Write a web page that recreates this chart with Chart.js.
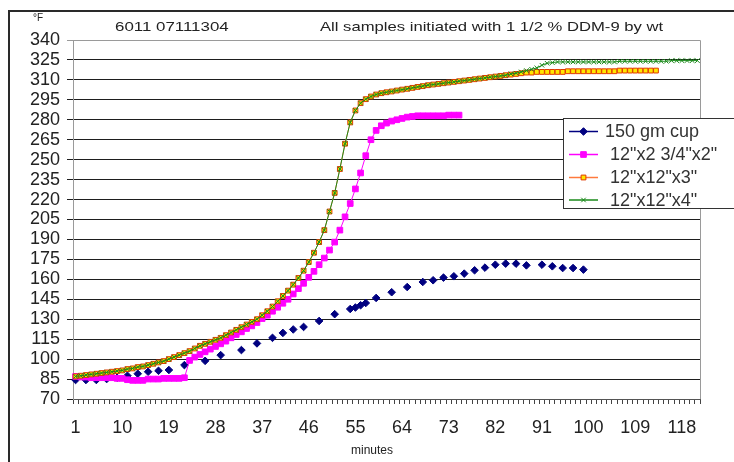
<!DOCTYPE html>
<html>
<head>
<meta charset="utf-8">
<script src="https://cdn.jsdelivr.net/npm/chart.js@4.4.1/dist/chart.umd.min.js"></script>
<style>
  html, body { margin: 0; padding: 0; background: #ffffff; }
  canvas { display: block; }
</style>
</head>
<body>
<canvas id="c" width="734" height="462"></canvas>
<script>
// ---------- DATA ----------
const categories = ['1','2','3','4','5','6','7','8','9','10','11','12','13','14','15','16','17','18','19','20',
  '21','22','23','24','25','26','27','28','29','30','31','32','33','34','35','36','37','38','39','40',
  '41','42','43','44','45','46','47','48','49','50','51','52','53','54','55','56','57','58','59','60',
  '61','62','63','64','65','66','67','68','69','70','71','72','73','74','75','76','77','78','79','80',
  '81','82','83','84','85','86','87','88','89','90','91','92','93','94','95','96','97','98','99','100',
  '101','102','103','104','105','106','107','108','109','110','111','112','113','114','115','116','117','118','119','120','121'];

const shownTickLabels = ['1','10','19','28','37','46','55','64','73','82','91','100','109','118'];

const seriesNames = ['150 gm cup', ' 12"x2 3/4"x2"', ' 12"x12"x3"', ' 12"x12"x4"'];

// 150 gm cup: sparse readings (minute, °F)
const cupMinutes = [1,3,5,7,9,11,13,15,17,19,22,26,29,33,36,39,41,43,45,48,51,54,55,56,57,59,62,65,68,70,72,74,76,78,80,82,84,86,88,91,93,95,97,99];
const cupTemps   = [84.3,84.3,84.3,85,86,87.5,89,90.5,91.2,91.8,95.5,98.7,103,106.8,111.8,116,119.7,122.3,124.2,128.7,133.8,137.7,138.8,140.5,142.2,146,150.3,154.2,158,159.3,161.3,162.3,164.3,166.8,168.8,171,171.8,171.8,170.5,171,169.8,168.5,168.5,167.3];

// 12"x2 3/4"x2" (minutes 1..75)
const slab2 = [87,86.5,86.5,86,86,86,86,86,85.5,85.5,84.5,84,84,84,85,85,85,85.5,85.5,85.5,
  85.5,86,99,101.5,103.5,105.5,107.5,109.5,111.5,113.5,116,118.5,120.5,123,125,127.5,130.5,133,136,139,
  142,145,149,153,157,161.5,166,171,176,182,188,197,207,217,228,240,253,265,272,275.5,
  277.5,279,280,281,282,282.5,283,283,283,283,283,283,283.5,283.5,283.5];

// 12"x12"x3" (minutes 1..113)
const slab3 = [87,87.5,88,88.5,89,89.5,90,90.5,91,91.5,92.5,93,94,94.5,95.5,96.5,97.5,98.5,100,101.5,
  103,104.5,106,108,110,111.5,113,114.5,116,118,120,122,124,126,128,130,133,136,139.5,143.5,
  147.5,151.5,156,161,166.5,173,180,188,197,211,225,243,262,278,287,292.5,295.5,297.5,299,300,
  300.7,301.3,302,302.7,303.3,304,304.7,305.3,306,306.5,307,307.5,308,308.5,309,309.5,310,310.5,311,311.5,
  312,312.5,313,313.5,314,314.5,315,315.5,315.5,316,316,316,316,316,316,316.5,316.5,316.5,316.5,316.5,
  316.5,316.5,316.5,316.5,316.5,317,317,317,317,317,317,317,317];

// 12"x12"x4" (minutes 1..121)
const slab4 = [87,87.5,88,88.5,89,89.5,90,90.5,91,91.5,92.5,93,94,94.5,95.5,96.5,97.5,98.5,100,101.5,
  103,104.5,106,108,110,111.5,113,114.5,116,118,120,122,124,126,128,130,133,136,139.5,143.5,
  147.5,151.5,156,161,166.5,173,180,188,197,211,225,243,262,278,287,292.5,295.5,297.5,299,300,
  300.7,301.3,302,302.7,303.3,304,304.7,305.3,306,306.5,307,307.5,308,308.5,309,309.5,310,310.5,311,311.5,
  312,312.5,313,313.5,314.5,315,316,317,318,319,321,322.5,323,323.5,323.5,323.5,323.5,323.5,323.5,323.5,
  323.5,323.5,323.5,323.5,323.5,324,324,324,324,324,324,324,324,324,324,324.5,324.5,324.5,324.5,324.5,324.5];

const yMin = 70, yMax = 340, yStep = 15;

// ---------- CHART ----------
const FONT = "'Liberation Sans', Arial, sans-serif";

const deco = {
  id: 'deco',
  afterDraw(chart) {
    const ctx = chart.ctx, a = chart.chartArea;
    ctx.save();
    // plot area border (grey top and right)
    ctx.strokeStyle = '#9a9a9a';
    ctx.lineWidth = 1;
    ctx.beginPath();
    ctx.moveTo(a.left, Math.round(a.top) + 0.5);
    ctx.lineTo(Math.round(a.right) + 0.5, Math.round(a.top) + 0.5);
    ctx.lineTo(Math.round(a.right) + 0.5, a.bottom);
    ctx.stroke();

    // outer frame (left and top edges visible)
    ctx.strokeStyle = '#2a2a2a';
    ctx.lineWidth = 2;
    ctx.beginPath();
    ctx.moveTo(9, 470);
    ctx.lineTo(9, 11);
    ctx.lineTo(740, 11);
    ctx.stroke();

    // titles
    ctx.fillStyle = '#222';
    ctx.textBaseline = 'middle';
    ctx.textAlign = 'left';
    ctx.font = '13px ' + FONT;
    ctx.save(); ctx.translate(115, 27); ctx.scale(1.3, 1);
    ctx.fillText('6011 07111304', 0, 0); ctx.restore();
    ctx.save(); ctx.translate(320, 27); ctx.scale(1.28, 1);
    ctx.fillText('All samples initiated with 1 1/2 % DDM-9 by wt', 0, 0); ctx.restore();

    ctx.font = '10px ' + FONT;
    ctx.fillText('°F', 33, 18);

    ctx.font = '12px ' + FONT;
    ctx.textAlign = 'center';
    ctx.fillText('minutes', 372, 451);

    // legend
    const lx = 563, ly = 118, lw = 180, lh = 90;
    ctx.fillStyle = '#ffffff';
    ctx.fillRect(lx, ly, lw, lh);
    ctx.strokeStyle = '#333';
    ctx.lineWidth = 1;
    ctx.strokeRect(lx + 0.5, ly + 0.5, lw, lh);
    const rowY = [131.5, 154.5, 177.5, 200];
    chart.data.datasets.forEach((ds, i) => {
      const y = rowY[i];
      ctx.strokeStyle = ds.borderColor;
      ctx.lineWidth = 1.5;
      ctx.beginPath(); ctx.moveTo(569, y); ctx.lineTo(598, y); ctx.stroke();
      ctx.fillStyle = ds.pointBackgroundColor;
      ctx.strokeStyle = ds.pointBorderColor;
      ctx.lineWidth = ds.pointBorderWidth;
      Chart.helpers.drawPoint(ctx, {pointStyle: ds.pointStyle, radius: ds.pointRadius, rotation: 0, borderWidth: ds.pointBorderWidth}, 583.5, y);
      ctx.fillStyle = '#333';
      ctx.font = '18px ' + FONT;
      ctx.textAlign = 'left';
      ctx.textBaseline = 'middle';
      ctx.fillText(ds.label, 605, y + 1);
    });
    ctx.restore();
  }
};

new Chart(document.getElementById('c'), {
  type: 'line',
  data: {
    labels: categories,
    datasets: [
      {
        label: seriesNames[0],
        data: cupMinutes.map((m, i) => ({x: String(m), y: cupTemps[i]})),
        showLine: false,
        borderColor: '#000080', borderWidth: 1,
        pointStyle: 'rectRot', pointRadius: 3.8,
        pointBackgroundColor: '#000080', pointBorderColor: '#000080', pointBorderWidth: 1,
        order: 4
      },
      {
        label: seriesNames[1],
        data: slab2,
        borderColor: '#ff00ff', borderWidth: 1,
        pointStyle: 'rect', pointRadius: 4,
        pointBackgroundColor: '#ff00ff', pointBorderColor: '#ff00ff', pointBorderWidth: 1,
        order: 3
      },
      {
        label: seriesNames[2],
        data: slab3,
        borderColor: '#ff7a3d', borderWidth: 1,
        pointStyle: 'rect', pointRadius: 3.4,
        pointBackgroundColor: '#ffe600', pointBorderColor: '#e03a00', pointBorderWidth: 1,
        order: 2
      },
      {
        label: seriesNames[3],
        data: slab4,
        borderColor: '#1a8a1a', borderWidth: 1,
        pointStyle: 'crossRot', pointRadius: 3.2,
        pointBackgroundColor: '#1a8a1a', pointBorderColor: '#1a8a1a', pointBorderWidth: 1,
        order: 1
      }
    ]
  },
  options: {
    responsive: false,
    animation: false,
    events: [],
    layout: { padding: { top: 40, right: 34, bottom: 0, left: 0 } },
    plugins: { legend: { display: false }, tooltip: { enabled: false }, title: { display: false } },
    elements: { line: { tension: 0 } },
    scales: {
      x: {
        type: 'category',
        offset: true,
        grid: { display: true, drawOnChartArea: false, drawTicks: true, tickLength: 5, color: '#444', offset: true },
        border: { display: true, color: '#555', width: 1 },
        ticks: {
          autoSkip: false, maxRotation: 0, minRotation: 0, padding: 13,
          color: '#222', font: { family: FONT, size: 18 },
          callback: function(value, index) {
            const lab = categories[index];
            return shownTickLabels.includes(lab) ? lab : '';
          }
        },
        afterFit(scale) { scale.height = 63; }
      },
      y: {
        min: yMin, max: yMax,
        grid: {
          color: (c) => (c.tick && c.tick.value === yMax) ? '#9a9a9a' : '#1e1e1e',
          lineWidth: 1, tickLength: 6, drawTicks: true
        },
        border: { display: true, color: '#9a9a9a', width: 1 },
        ticks: { stepSize: yStep, autoSkip: false, padding: 7, color: '#222', font: { family: FONT, size: 18, lineHeight: 1.0 } },
        afterFit(scale) { scale.width = 73; }
      }
    }
  },
  plugins: [deco]
});
</script>
</body>
</html>
